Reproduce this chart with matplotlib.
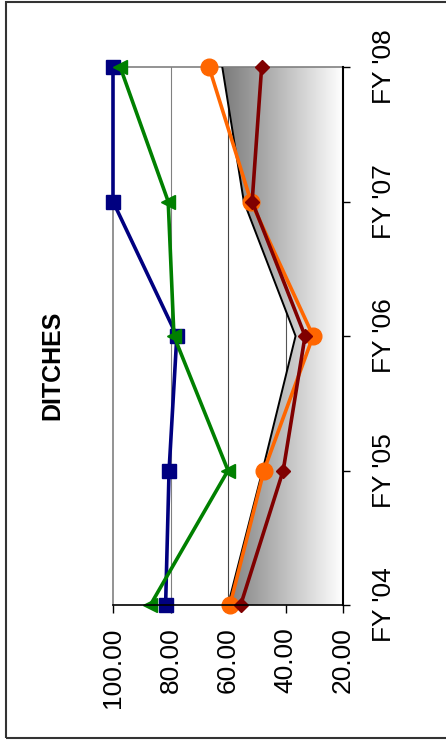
import numpy as np
import matplotlib
matplotlib.use("Agg")
import matplotlib.pyplot as plt
from matplotlib.colors import LinearSegmentedColormap
from matplotlib.patches import Polygon, Rectangle

plt.rcParams['font.family'] = ['Liberation Sans', 'DejaVu Sans']

# chart values (rotated chart: categories run bottom -> top)
categories = ["FY '04", "FY '05", "FY '06", "FY '07", "FY '08"]
area_vals = [60.0, 48.0, 36.5, 54.5, 62.0]
blue_vals = [81.7, 80.5, 77.8, 100.0, 100.0]
green_vals = [87.0, 60.0, 78.8, 80.8, 97.5]
orange_vals = [59.3, 47.5, 30.4, 52.0, 66.6]
darkred_vals = [55.6, 40.8, 33.2, 51.6, 48.3]
value_ticks = [100, 80, 60, 40, 20]
value_labels = ["100.00", "80.00", "60.00", "40.00", "20.00"]

W, H = 446, 744
fig = plt.figure(figsize=(W / 100, H / 100), dpi=100)
ax = fig.add_axes([113 / W, 1 - 605 / H, (343 - 113) / W, (605 - 67) / H])

idx = np.arange(len(categories))
ax.set_xlim(100, 20)
ax.set_ylim(0, len(categories) - 1)

# gridlines
for v, c in [(80, '#808080'), (60, '#444444'), (40, '#555555')]:
    ax.axvline(v, color=c, lw=0.8, zorder=1)

# gradient area
verts = [(20, 0)] + list(zip(area_vals, idx)) + [(20, idx[-1])]
poly = Polygon(verts, closed=True, facecolor='none', edgecolor='none')
ax.add_patch(poly)
cmap = LinearSegmentedColormap.from_list('g', ['#7a7a7a', '#ffffff'])
grad = np.linspace(0, 1, 256).reshape(1, -1)
im = ax.imshow(grad, cmap=cmap, aspect='auto',
               extent=(max(area_vals), 20, 0, idx[-1]), zorder=2)
im.set_clip_path(poly)
ax.plot(area_vals, idx, color='black', lw=1.4, zorder=3)

# line series
ax.plot(blue_vals, idx, color='#000080', lw=2.6, marker='s', ms=9.5,
        zorder=4, clip_on=False)
ax.plot(green_vals, idx, color='#008000', lw=2.6, marker='<', ms=10,
        zorder=5, clip_on=False)
ax.plot(orange_vals, idx, color='#FF6600', lw=2.6, marker='o', ms=12,
        zorder=6, clip_on=False)
ax.plot(darkred_vals, idx, color='#800000', lw=2.6, marker='D', ms=7.5,
        zorder=7, clip_on=False)

# spines
for s in ['left', 'top']:
    ax.spines[s].set_color('#808080')
    ax.spines[s].set_linewidth(1.2)
ax.spines['bottom'].set_color('black')
ax.spines['bottom'].set_linewidth(1.2)
ax.spines['right'].set_color('black')
ax.spines['right'].set_linewidth(1.5)
ax.spines['bottom'].set_zorder(8)
ax.spines['right'].set_zorder(8)

ax.set_xticks(value_ticks)
ax.set_xticklabels(value_labels, rotation=90, fontsize=19)
ax.tick_params(axis='x', direction='out', length=6, width=1, pad=10)

ax.yaxis.tick_right()
ax.set_yticks(idx)
ax.set_yticklabels(categories, rotation=90, fontsize=19, va='center')
ax.tick_params(axis='y', direction='out', length=5, width=1, pad=16)

fig.text(52 / W, 1 - 365 / H, 'DITCHES', rotation=90, fontsize=18,
         fontweight='bold', ha='center', va='center')

fig.patches.append(Rectangle((6 / W, 1 - 738 / H), 1.2, (737 - 1) / H,
                             transform=fig.transFigure, fill=False,
                             edgecolor='#333333', lw=1.5))

fig.savefig('out.png', dpi=100)
